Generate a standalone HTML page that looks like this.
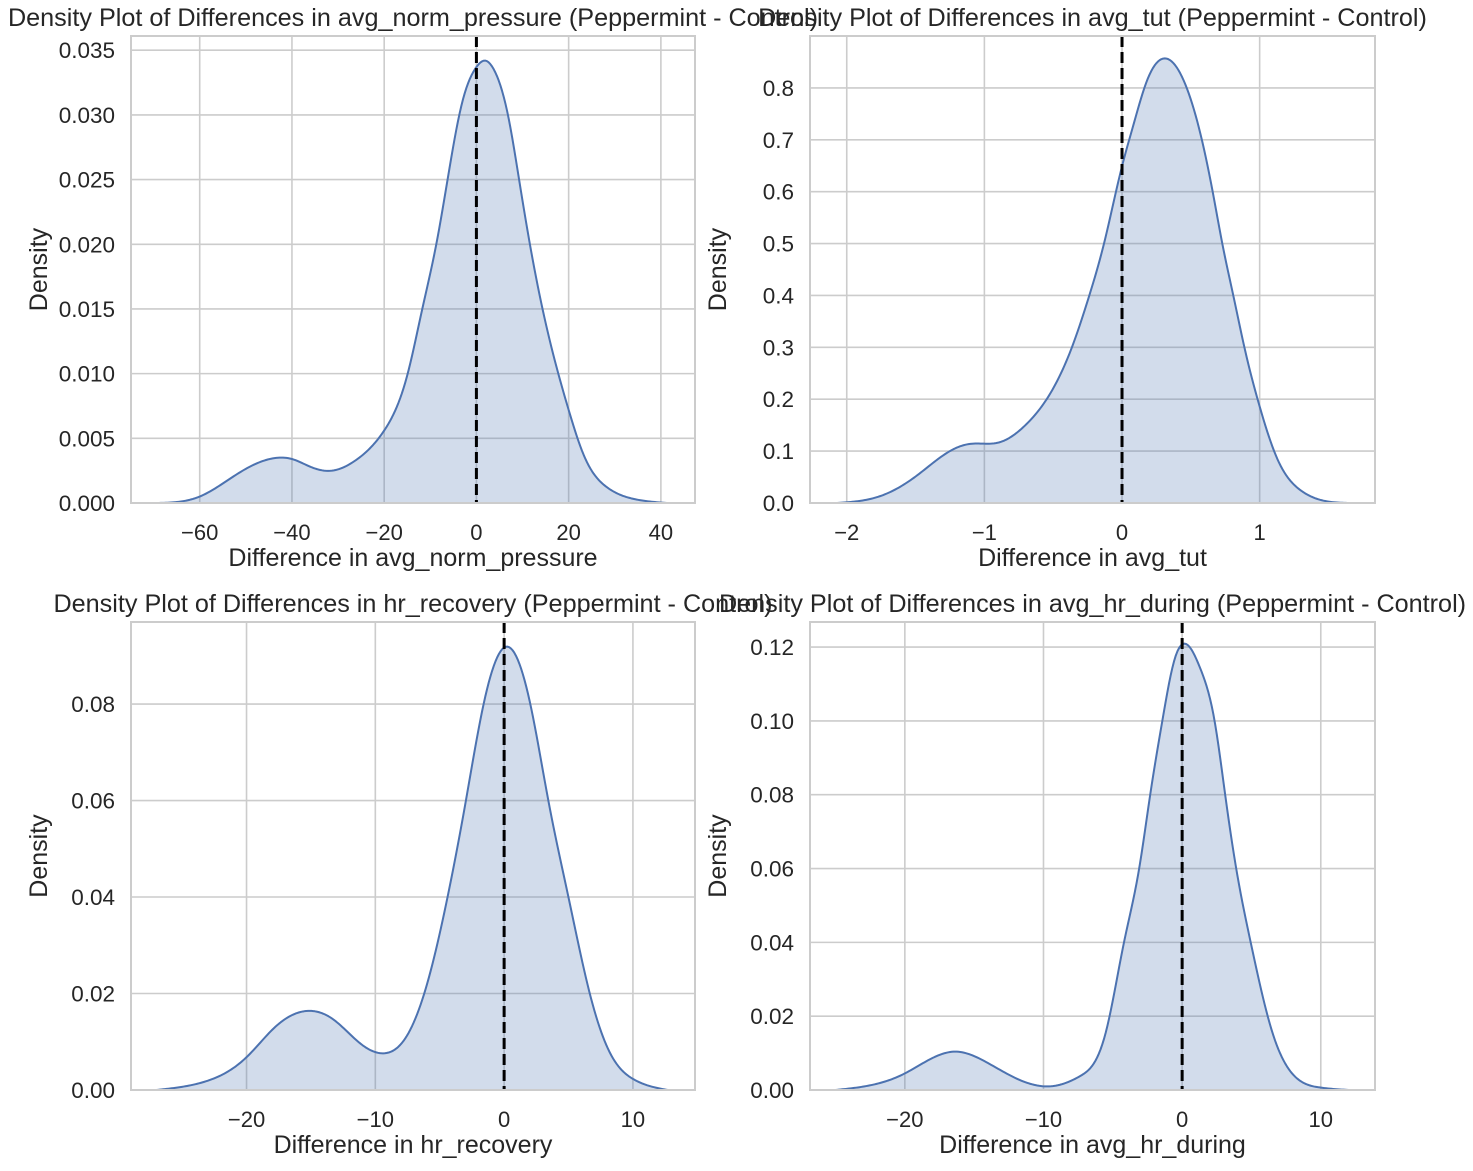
<!DOCTYPE html>
<html><head><meta charset="utf-8"><style>
body{margin:0;background:#fff;}
svg text{font-family:"Liberation Sans",Arial,sans-serif;fill:#262626;}
</style></head><body>
<svg id="fig" width="1473" height="1166" viewBox="0 0 1473 1166" xmlns="http://www.w3.org/2000/svg"></svg>
<script>
// Panel 1: avg_norm_pressure
const p1X = [-69.2,-60,-51.6,-43,-40,-36,-31.3,-26.6,-20,-14.9,-11.8,-8.7,-6.3,-3.2,0,1.9,3.8,6.95,9.3,11.6,14.4,20,23.4,28,34.3,41.3];
const p1Y = [0,0.0005,0.0023,0.0035,0.0034,0.0028,0.0025,0.0032,0.0056,0.0100,0.0149,0.0200,0.0249,0.0308,0.0337,0.0342,0.0335,0.0298,0.0249,0.0200,0.0149,0.0072,0.0036,0.0013,0.0003,0];
const p1XTicks = [-60,-40,-20,0,20,40];
const p1YTicks = [0,0.005,0.010,0.015,0.020,0.025,0.030,0.035];
// Panel 2: avg_tut
const p2X = [-2.07,-1.76,-1.50,-1.23,-1.10,-0.89,-0.71,-0.55,-0.37,-0.24,-0.13,0,0.08,0.18,0.33,0.47,0.58,0.66,0.73,0.81,0.89,1.0,1.13,1.29,1.65];
const p2Y = [0,0.013,0.051,0.103,0.114,0.117,0.148,0.199,0.296,0.398,0.501,0.649,0.726,0.813,0.856,0.800,0.700,0.598,0.498,0.398,0.299,0.186,0.084,0.026,0];
const p2XTicks = [-2,-1,0,1];
const p2YTicks = [0,0.1,0.2,0.3,0.4,0.5,0.6,0.7,0.8];
// Panel 3: hr_recovery
const p3X = [-27,-23.4,-20,-17.8,-15.2,-13.3,-11.1,-9.4,-7.7,-6.1,-4.4,-3.0,-1.6,0.22,2.04,3.44,5.0,6.66,8.2,10,12.7];
const p3Y = [0,0.0016,0.0068,0.013,0.0164,0.0147,0.0095,0.0076,0.0106,0.0209,0.0399,0.0595,0.0799,0.0919,0.0799,0.0599,0.0399,0.0199,0.0078,0.0023,0];
const p3XTicks = [-20,-10,0,10];
const p3YTicks = [0,0.02,0.04,0.06,0.08];
// Panel 4: avg_hr_during
const p4X = [-25,-20.1,-16.4,-14.1,-12,-9.5,-7.3,-5.5,-4.2,-3.1,-2.3,-1.43,-0.52,0.39,1.3,2.34,3.1,3.9,4.95,6.5,8.33,9.9,12];
const p4Y = [0,0.0043,0.0104,0.0075,0.0032,0.0010,0.0039,0.0157,0.0399,0.0600,0.0801,0.1000,0.117,0.1206,0.1143,0.1000,0.0801,0.0600,0.0399,0.0157,0.003,0.0007,0];
const p4XTicks = [-20,-10,0,10];
const p4YTicks = [0,0.02,0.04,0.06,0.08,0.10,0.12];
const refLine = [0,0,0,0];

const NS="http://www.w3.org/2000/svg";
const svg=document.getElementById('fig');
function mk(tag,attrs,parent){const e=document.createElementNS(NS,tag);for(const k in attrs)e.setAttribute(k,attrs[k]);(parent||svg).appendChild(e);return e;}
function fmt(v,d){return (v<0?'\u2212':'')+Math.abs(v).toFixed(d);}

function spline(xs,ys){
  const n=xs.length,h=[],al=[],l=[1],mu=[0],z=[0],c=new Array(n).fill(0),b=[],d=[];
  for(let i=0;i<n-1;i++)h.push(xs[i+1]-xs[i]);
  for(let i=1;i<n-1;i++)al[i]=3/h[i]*(ys[i+1]-ys[i])-3/h[i-1]*(ys[i]-ys[i-1]);
  for(let i=1;i<n-1;i++){l[i]=2*(xs[i+1]-xs[i-1])-h[i-1]*mu[i-1];mu[i]=h[i]/l[i];z[i]=(al[i]-h[i-1]*z[i-1])/l[i];}
  l[n-1]=1;z[n-1]=0;
  for(let j=n-2;j>=0;j--){c[j]=z[j]-mu[j]*c[j+1];b[j]=(ys[j+1]-ys[j])/h[j]-h[j]*(c[j+1]+2*c[j])/3;d[j]=(c[j+1]-c[j])/(3*h[j]);}
  return x=>{let i=0;while(i<n-2&&x>xs[i+1])i++;const t=x-xs[i];return ys[i]+b[i]*t+c[i]*t*t+d[i]*t*t*t;};
}

const panels=[
 {id:'pressure',L:131,R:695,T:36,B:503,xmin:-74.9,xmax:47.4,ymax:0.0361,xs:p1X,ys:p1Y,xt:p1XTicks,yt:p1YTicks,yd:3,title:'Density Plot of Differences in avg_norm_pressure (Peppermint - Control)',xl:'Difference in avg_norm_pressure',ref:refLine[0]},
 {id:'tut',L:810,R:1375,T:36,B:503,xmin:-2.267,xmax:1.838,ymax:0.900,xs:p2X,ys:p2Y,xt:p2XTicks,yt:p2YTicks,yd:1,title:'Density Plot of Differences in avg_tut (Peppermint - Control)',xl:'Difference in avg_tut',ref:refLine[1]},
 {id:'recovery',L:131,R:695,T:622,B:1090,xmin:-28.97,xmax:14.82,ymax:0.097,xs:p3X,ys:p3Y,xt:p3XTicks,yt:p3YTicks,yd:2,title:'Density Plot of Differences in hr_recovery (Peppermint - Control)',xl:'Difference in hr_recovery',ref:refLine[2]},
 {id:'hr-during',L:810,R:1375,T:622,B:1090,xmin:-26.84,xmax:13.91,ymax:0.1268,xs:p4X,ys:p4Y,xt:p4XTicks,yt:p4YTicks,yd:2,title:'Density Plot of Differences in avg_hr_during (Peppermint - Control)',xl:'Difference in avg_hr_during',ref:refLine[3]}
];

panels.forEach(p=>{
  const g=mk('g',{});
  
  
  const sx=v=>p.L+(v-p.xmin)/(p.xmax-p.xmin)*(p.R-p.L);
  const sy=v=>p.B-v/p.ymax*(p.B-p.T);
  p.xt.forEach(t=>{
    const l=mk('line',{x1:sx(t),x2:sx(t),y1:p.T,y2:p.B,stroke:'#cccccc','stroke-width':1.6},g);
    
    
    const tx=mk('text',{x:sx(t),y:p.B+37,'text-anchor':'middle','font-size':22},g);
    tx.textContent=fmt(t,0);
    
    
  });
  p.yt.forEach(t=>{
    const l=mk('line',{x1:p.L,x2:p.R,y1:sy(t),y2:sy(t),stroke:'#cccccc','stroke-width':1.6},g);
    
    
    const tx=mk('text',{x:p.L-16,y:sy(t)+8,'text-anchor':'end','font-size':22.5},g);
    tx.textContent=fmt(t,p.yd);
    
    
  });
  const f=spline(p.xs,p.ys);
  const x0=p.xs[0],x1=p.xs[p.xs.length-1],N=300;
  let d='';
  for(let i=0;i<=N;i++){const x=x0+(x1-x0)*i/N;const y=Math.max(0,f(x));d+=(i?' L':'M')+sx(x).toFixed(2)+','+sy(y).toFixed(2);}
  const fill=mk('path',{d:d+` L${sx(x1)},${p.B} L${sx(x0)},${p.B} Z`,fill:'rgba(76,114,176,0.25)',stroke:'none'},g);
  
  
  const line=mk('path',{d:d,fill:'none',stroke:'#4c72b0','stroke-width':2,'stroke-linejoin':'round'},g);
  
  
  const rl=mk('line',{x1:sx(p.ref),x2:sx(p.ref),y1:p.T,y2:p.B,stroke:'#000','stroke-width':3,'stroke-dasharray':'11,5'},g);
  
  
  const fr=mk('rect',{x:p.L,y:p.T,width:p.R-p.L,height:p.B-p.T,fill:'none',stroke:'#cccccc','stroke-width':2},g);
  
  
  const ti=mk('text',{x:(p.L+p.R)/2,y:p.T-10,'text-anchor':'middle','font-size':25.2},g);
  ti.textContent=p.title;
  
  
  const xl=mk('text',{x:(p.L+p.R)/2,y:p.B+63,'text-anchor':'middle','font-size':25},g);
  xl.textContent=p.xl;
  
  
  const cy=(p.T+p.B)/2, cx=p.L-84;
  const yl=mk('text',{x:cx,y:cy,'text-anchor':'middle','font-size':25,transform:`rotate(-90 ${cx} ${cy})`},g);
  yl.textContent='Density';
  
  
});
</script>
</body></html>
